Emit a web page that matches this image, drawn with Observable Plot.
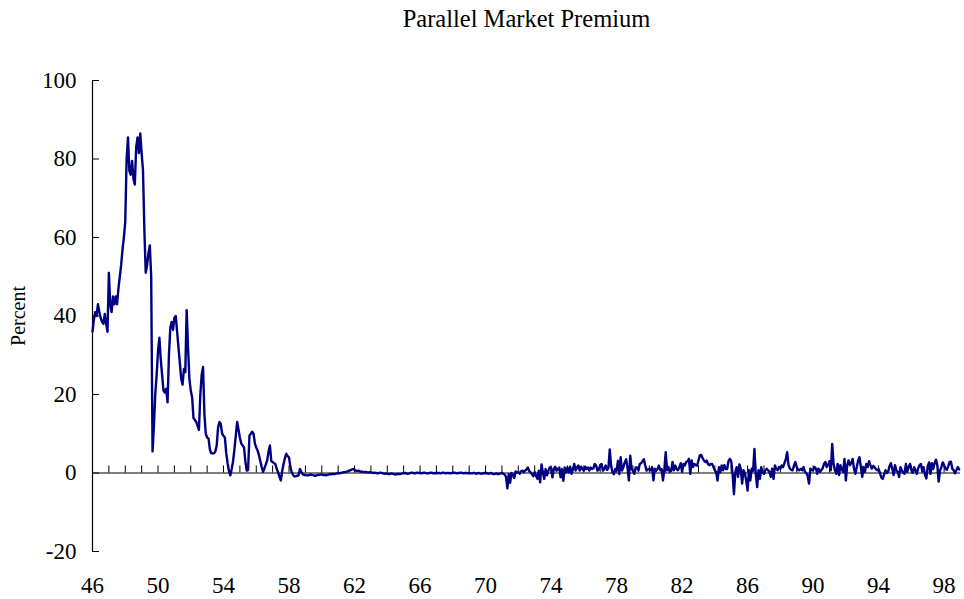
<!DOCTYPE html>
<html><head><meta charset="utf-8">
<script src="https://cdn.jsdelivr.net/npm/d3@7"></script>
<script src="https://cdn.jsdelivr.net/npm/@observablehq/plot@0.6"></script>
<style>body{margin:0;background:#fff;}</style>
</head><body><div id="chart"></div>
<script>
const title = "Parallel Market Premium";
const yLabel = "Percent";
const startYear = 1946; // monthly series starting January 1946
const xTickYears = [1946,1950,1954,1958,1962,1966,1970,1974,1978,1982,1986,1990,1994,1998];
const xTickLabels = ["46","50","54","58","62","66","70","74","78","82","86","90","94","98"];
const yTicks = [-20,0,20,40,60,80,100];
const yTickLabels = ["-20","0","20","40","60","80","100"];

// Monthly premium, percent
const premium1946to1958 = [
  36,39,41,40,43,41,39.5,38.5,38,40.5,38,36,
  51,43,41,45,43,45,43,47,50,53,57,60,
  64,80,85.5,77,76,79.5,75,73.5,83,85.5,81.5,86.5,
  81.5,77,62,51,53,56,58,50,5.5,12,20,25,
  31,34.5,29,25,21,20.5,21.5,18,30,37,38.5,36.5,
  39.5,40,36,32,28,24,22.5,26.5,25.7,41.5,32,24,
  21,19.3,14,13.5,13,12,11,20,25,27,15,10,
  9,8.8,6,5,5,5,5.5,7,11.5,13,12.5,10,
  9.5,9,5,2.5,0.5,-0.6,1,3,6,9.5,13,11,
  9,7.5,7,6.5,3,0.6,0.8,9.5,10,10.5,10,7.5,
  6.5,5.7,4.5,3,1.5,0.3,1.2,2.2,3.2,5.5,7,3,
  2.8,2.5,2.3,1,0.2,-1,-1.9,0.5,2.3,3.8,4.9,4.3,
  4,1.5,0.2,-0.5,-0.9,-0.8,-0.7,-0.6,1,0.3,-0.3,-0.5
];
const premium1959to1970 = [
  -0.5,-0.6,-0.6,-0.5,-0.4,-0.5,-0.6,-0.7,-0.6,-0.5,-0.5,-0.4,
  -0.4,-0.5,-0.5,-0.6,-0.5,-0.4,-0.3,-0.3,-0.2,-0.3,-0.2,-0.1,
  0,-0.1,0,0.1,0.2,0.2,0.3,0.4,0.6,0.7,0.9,1.0,
  0.8,0.6,0.5,0.6,0.4,0.3,0.3,0.2,0.3,0.2,0.1,0.2,
  0.1,0.1,0,0.1,0,-0.1,0,0.1,0,-0.1,-0.2,-0.1,
  -0.2,-0.3,-0.2,-0.1,-0.2,-0.3,-0.4,-0.3,-0.2,-0.3,-0.2,-0.1,
  -0.1,0,-0.1,-0.2,-0.1,0,0.1,0,-0.1,0,0.1,0,
  0,-0.1,0,0.1,0,-0.1,-0.1,0,0.1,0,-0.1,0,
  -0.1,0,0,-0.1,0,0.1,0,-0.1,0,0,-0.1,0,
  0,0.1,0,-0.1,0,0,0.1,0,-0.1,0,0,-0.1,
  0,-0.1,-0.1,0,0,-0.2,-0.1,0,-0.1,-0.2,-0.1,0,
  -0.1,0,-0.2,-0.1,0,-0.2,-0.3,-0.2,-0.1,-0.3,-0.2,-0.1
];
const premium1971to1984 = [
  0,-0.2,-0.4,-1.0,-3.9,-0.3,-2.5,0,-0.5,-1.3,0.4,0.1,
  0.2,-0.2,0.5,0.6,0.2,0.6,0.9,1.4,0.5,0.2,-0.3,-0.8,
  0.2,-0.7,-1.5,0.6,-2.4,2.2,0.2,-1.5,1.0,-0.6,0.5,1.4,
  1.4,-1.1,1.0,1.6,0.6,1.0,1.4,-1.1,1.0,-2.0,1.4,0.2,
  1.4,0.2,1.6,-0.2,1.0,2.3,0.6,1.4,1.9,0.6,1.6,1.0,
  0.6,1.6,1.0,1.4,0.6,1.4,1.0,1.2,2.3,1.9,0.6,0.9,
  2.0,2.3,0.6,1.0,1.9,0.8,1.2,6.0,1.9,0.2,-0.3,1.0,
  0.6,3.1,-0.3,4.0,0.6,1.5,2.7,3.5,1.4,-1.9,4.4,1.0,
  0.6,-0.2,1.4,1.4,0.6,2.3,2.5,3.0,3.5,1.9,0.6,1.0,
  1.0,0.7,1.5,-1.9,1.1,0.6,1.0,1.9,0.7,1.0,-1.9,0.8,
  5.3,0.7,1.5,0.3,0.5,2.8,0.7,1.9,1.0,0.7,1.5,2.5,
  0.3,2.3,1.9,2.8,3.0,3.6,-0.2,3.2,1.5,2.3,2.0,1.9,
  3.2,4.5,4.6,3.8,3.2,2.8,3.2,2.3,2.0,2.3,2.3,1.5,
  0.7,0.2,-1.9,1.5,0.2,1.9,0.7,2.0,1.0,1.0,3.0,3.6
];
const premium1985to1998 = [
  3.0,-0.2,-5.4,0.2,1.5,-1.0,2.2,1.0,-2.7,0.7,0,-2.0,
  -4.5,0.7,-1.9,1.1,0.5,6.1,-0.2,-3.6,0.7,-1.5,1.5,0,
  -0.2,0.7,1.1,0.7,0.3,-1.0,1.1,-1.5,1.9,1.1,0.7,1.5,
  1.1,1.9,1.5,2.5,3.5,5.3,2.0,1.1,0.8,0.7,1.9,2.8,
  1.5,0.8,0.7,1.1,0.7,1.5,0.3,0,-0.7,-2.7,1.1,0.8,
  0.7,1.5,1.2,-0.2,1.1,0.3,0.7,1.2,2.3,2.8,1.5,2.0,
  3.0,0.7,7.4,2.3,0.7,-0.2,2.3,-0.5,2.0,0.8,0.3,3.6,
  -1.9,2.0,3.2,2.0,2.5,3.6,1.0,-0.2,1.5,3.2,4.0,1.5,
  -1.0,1.5,0.3,2.3,1.5,3.0,2.0,1.1,1.8,1.5,1.0,0.7,
  1.0,0,-1.2,-1.5,-0.4,0.7,0,0.4,1.8,2.5,1.1,-0.5,
  2.0,0.7,0.3,-1.0,1.5,0.7,0.1,-0.2,2.3,0.3,1.5,2.3,
  0.8,0.1,1.5,0.7,-0.2,1.2,2.0,2.3,0.4,1.5,-0.5,-1.4,
  1.8,2.7,-0.2,2.5,1.0,2.5,3.4,2.0,-2.2,0.6,1.5,2.7,
  2.0,1.1,0.8,1.7,2.8,2.9,1.1,0.7,-0.1,0.7,1.5,0.9
];

const values = [...premium1946to1958, ...premium1959to1970, ...premium1971to1984, ...premium1985to1998];
const data = values.map((v, i) => ({t: startYear + i / 12, v}));
const yearTicks = d3.range(1946, 1999);

const chart = Plot.plot({
  width: 964, height: 599,
  marginLeft: 92, marginRight: 4, marginTop: 80, marginBottom: 48,
  style: {fontFamily: "'Liberation Serif', 'Times New Roman', serif", fontSize: "23px", color: "#000", background: "#fff"},
  x: {type: "linear", domain: [1946, 1999]},
  y: {domain: [-20, 100]},
  marks: [
    Plot.ruleY([0], {stroke: "#000", strokeWidth: 1}),
    Plot.ruleX(yearTicks, {x: d => d, y1: 0, y2: 1.8, stroke: "#000", strokeWidth: 1}),
    Plot.ruleX([1946], {y1: -20, y2: 100, stroke: "#000", strokeWidth: 1.2}),
    Plot.ruleY(yTicks, {y: d => d, x1: 1946, x2: 1946.43, stroke: "#000"}),
    Plot.axisY({ticks: yTicks, tickSize: 0, tickPadding: 16, label: null,
      tickFormat: d => yTickLabels[yTicks.indexOf(d)]}),
    Plot.axisX({ticks: xTickYears, tickSize: 0, tickPadding: 25, label: null,
      tickFormat: d => xTickLabels[xTickYears.indexOf(d)]}),
    Plot.text([yLabel], {frameAnchor: "left", textAnchor: "middle", dx: -74, rotate: -90, fontSize: 20}),
    Plot.text([title], {frameAnchor: "top", textAnchor: "middle", dy: -71, fontSize: 24.5}),
    Plot.line(data, {x: "t", y: "v", stroke: "#000080", strokeWidth: 2.4})
  ]
});
document.getElementById("chart").appendChild(chart);
</script>
</body></html>
